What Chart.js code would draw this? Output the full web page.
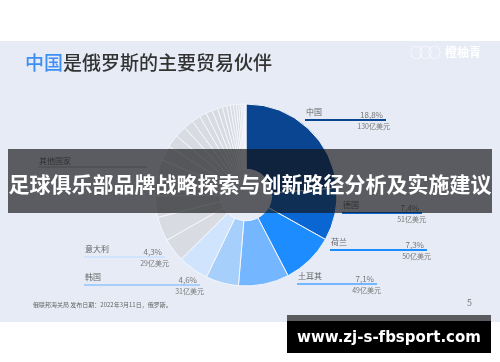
<!DOCTYPE html>
<html>
<head>
<meta charset="utf-8">
<script src="https://cdn.jsdelivr.net/npm/chart.js@4.4.0/dist/chart.umd.min.js"></script>
<style>
  html, body { margin: 0; padding: 0; background: #fff; }
  body { width: 500px; height: 362px; position: relative; overflow: hidden;
         font-family: "Noto Sans CJK SC", sans-serif; }
  .abs { position: absolute; white-space: nowrap; }
  #slide { left: 0; top: 41px; width: 500px; height: 281px; background: #e6ebf6; }
  #chart { left: 0; top: 0; }
  #title { left: 25px; top: 50px; font-size: 19px; line-height: 24px; color: #333; font-weight: 500; }
  #title span { color: #3d8ff5; }
  #logo { left: 410px; top: 45px; color: #fff; font-size: 12px; line-height: 14px; font-weight: bold; }
  #logo .o { letter-spacing: -4px; font-size: 13px; margin-right: 8px; font-weight: normal; }
  .name { font-size: 8px; line-height: 9px; color: #666; }
  .pct { font-size: 8px; line-height: 8px; color: #777; }
  .amt { font-size: 7px; line-height: 8px; color: #777; }
  .line { height: 2px; }
  #banner { left: 8px; top: 149px; width: 484px; height: 64px; background: rgba(18,18,20,0.66);
            color: #fff; font-weight: bold; font-size: 21px; line-height: 68px; text-align: center; }
  #source { left: 33px; top: 301px; font-size: 6px; line-height: 8px; color: #666; }
  #page { left: 467px; top: 297px; font-size: 9px; line-height: 12px; color: #777; }
  #strip { left: 287px; top: 315px; width: 204px; height: 6px; background: #5a5b5f; }
  #site { left: 287px; top: 321px; width: 204px; height: 32px; background: #000; color: #fff;
          font-family: "DejaVu Sans", sans-serif; font-weight: bold; font-size: 15px;
          line-height: 32px; text-align: center; }
</style>
</head>
<body>
<div id="slide" class="abs"></div>
<canvas id="chart" class="abs" width="500" height="362"></canvas>
<div id="title" class="abs"><span>中国</span>是俄罗斯的主要贸易伙伴</div>
<div id="logo" class="abs"><span class="o">○○○</span>橙柚青</div>
<div id="labels"></div>
<div id="banner" class="abs">足球俱乐部品牌战略探索与创新路径分析及实施建议</div>
<div id="source" class="abs">俄联邦海关局 发布日期：2022年3月11日，俄罗斯。</div>
<div id="page" class="abs">5</div>
<div id="strip" class="abs"></div>
<div id="site" class="abs">www.zj-s-fbsport.com</div>
<script>
// 主要贸易伙伴（顺时针）
const countries = ['中国', '德国', '荷兰', '土耳其', '韩国', '意大利'];
const shares = [18.8, 7.4, 7.3, 7.1, 4.6, 4.3];
const amounts = [130, 51, 50, 49, 31, 29]; // 亿美元
const otherName = '其他国家';
// 其他国家的小块（估读）
const otherShares = [3.3, 3.4, 3.0, 2.7, 2.4, 2.1, 1.8, 1.6, 1.4, 1.2, 1.0, 0.9,
                     0.8, 0.7, 0.6, 0.5, 0.45, 0.4, 0.35, 0.3, 0.25, 0.2, 0.15, 0.1];

const colores = ['#0a4592', '#0a66d2', '#1c8cff', '#74b6ff', '#a6cffb', '#d0e5fd'];
const gris = '#d8dbe2';

// 标注线的位置
const labelLayout = [
  { x1: 305, x2: 386, y: 120 },
  { x1: 342, x2: 422, y: 213 },
  { x1: 330, x2: 427, y: 250 },
  { x1: 297, x2: 377, y: 284 },
  { x1: 84, x2: 200, y: 285 },
  { x1: 84, x2: 165, y: 257 }
];
const otherLayout = { x1: 38, x2: 147, y: 167 };

const fmt = v => v.toFixed(1).replace('.', ',') + '%';

const cont = document.getElementById('labels');
function addDiv(cls, style, text) {
  const d = document.createElement('div');
  d.className = 'abs ' + cls;
  Object.assign(d.style, style);
  if (text) d.textContent = text;
  cont.appendChild(d);
}

countries.forEach((c, i) => {
  const p = labelLayout[i];
  addDiv('line', { left: p.x1 + 'px', top: (p.y - 1) + 'px', width: (p.x2 - p.x1) + 'px', background: colores[i] });
  addDiv('name', { left: (p.x1 + 1) + 'px', top: (p.y - 13) + 'px' }, c);
  addDiv('pct', { right: (500 - (p.x2 - 3)) + 'px', top: (p.y - 9) + 'px' }, fmt(shares[i]));
  addDiv('amt', { right: (500 - (p.x2 + 4)) + 'px', top: (p.y + 2) + 'px' }, amounts[i] + '亿美元');
});
addDiv('line', { left: otherLayout.x1 + 'px', top: (otherLayout.y - 1) + 'px', width: (otherLayout.x2 - otherLayout.x1) + 'px', background: '#c9ccd3' });
addDiv('name', { left: (otherLayout.x1 + 1) + 'px', top: (otherLayout.y - 11) + 'px' }, otherName);

const ctx = document.getElementById('chart').getContext('2d');
new Chart(ctx, {
  type: 'doughnut',
  data: {
    labels: countries.concat(otherShares.map(() => otherName)),
    datasets: [{
      data: shares.concat(otherShares),
      backgroundColor: colores.concat(otherShares.map(() => gris)),
      borderColor: '#f4f6fb',
      borderWidth: 1
    }]
  },
  options: {
    responsive: false,
    animation: false,
    radius: 91,
    cutout: 47,
    rotation: 0,
    layout: { padding: { left: 0, right: 8, top: 28, bottom: 0 } },
    plugins: {
      legend: { display: false },
      tooltip: { enabled: false }
    }
  }
});
</script>
</body>
</html>
